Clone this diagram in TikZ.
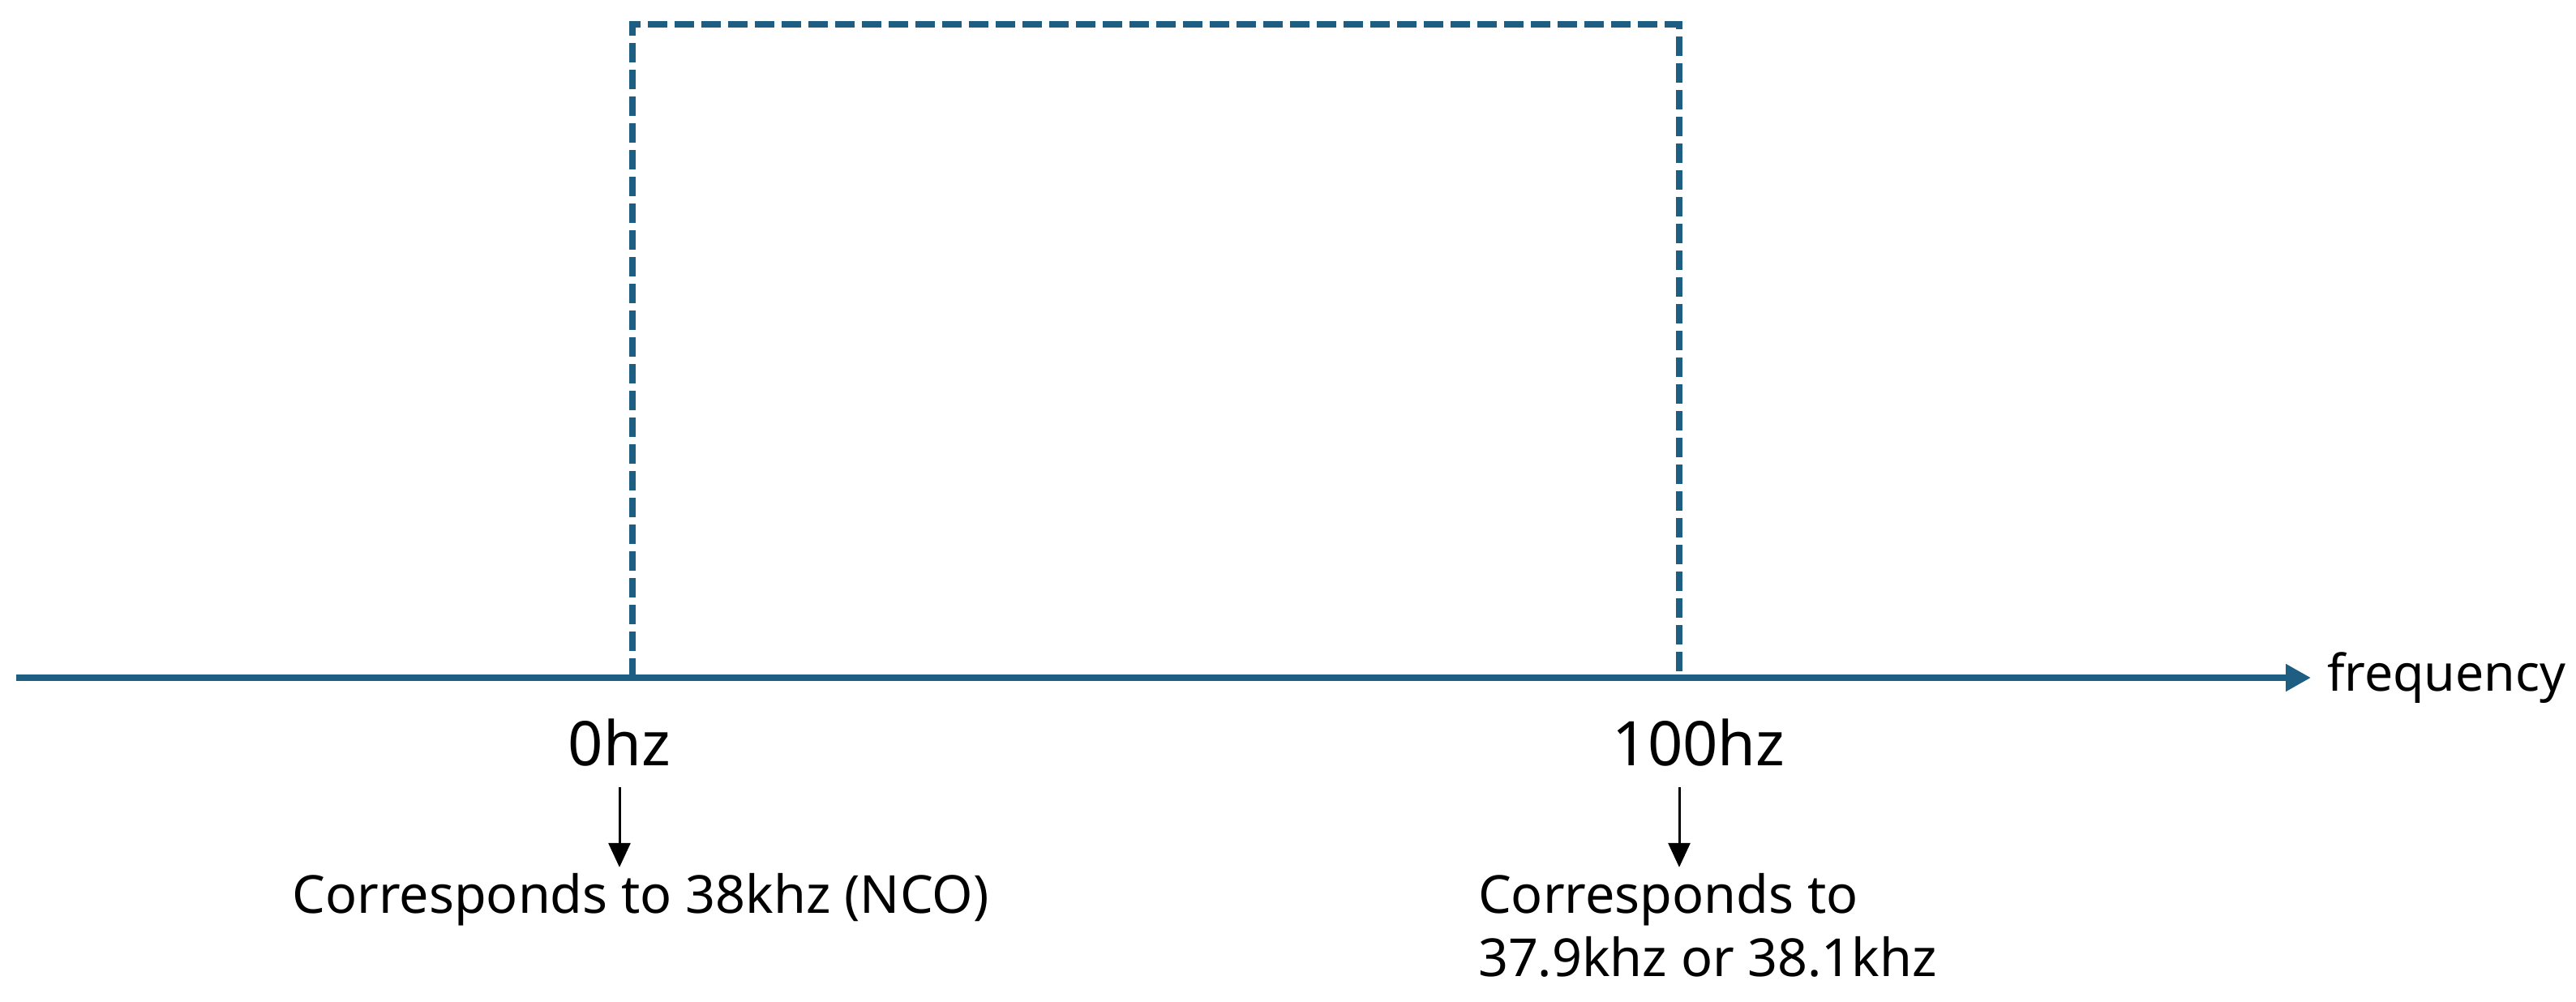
\documentclass[tikz,border=0pt]{standalone}
\usepackage{fontspec}
\setmainfont{Noto Sans}
\usetikzlibrary{positioning,arrows.meta}
\definecolor{axisblue}{RGB}{29,94,130}

\begin{document}
\begin{tikzpicture}
[every node/.style={inner sep=0mm,outer sep=0mm,font=\fontsize{18.4}{22.2}\selectfont},
 tick/.style={font=\fontsize{21.6}{26}\selectfont},
 note/.style={align=left},
 axis/.style={draw=axisblue,line width=0.8mm,-{Triangle[length=3.1mm,width=3.2mm]}},
 band/.style={draw=axisblue,line width=0.8mm,dash pattern=on 2.4mm off 0.9mm},
 ptr/.style={draw=black,line width=0.3mm,-{Triangle[length=3mm,width=2.7mm]}}]
\useasboundingbox (0,0) rectangle (31.77,12.36);
\coordinate (o)  at (0.20,4.00);
\coordinate (e)  at (28.50,4.00);
\coordinate (lb) at (7.80,4.00);
\coordinate (rb) at (20.71,4.00);
\coordinate (lt) at (7.80,12.06);
\coordinate (rt) at (20.71,12.06);
\node       (freq) [right=2mm of e,font=\fontsize{17.8}{21}\selectfont] {frequency};
\node[tick] (f0)   at (7.64,3.20)    {0hz};
\node[tick] (f100) at (20.95,3.20)   {100hz};
\node       (nco)  [anchor=base] at (7.90,1.09) {Corresponds to 38khz (NCO)};
\node[note] (alt)  [anchor=base west] at (18.23,0.31) {Corresponds to\\37.9khz or 38.1khz};
\path[band] (lb) -- (lt) -- (rt) -- (rb);
\path[axis] (o) -- (e);
\path[ptr]  ([yshift=-2.6mm]f0.south) -- ([yshift=0.8mm]f0.south |- nco.north);
\path[ptr]  ([yshift=-2.6mm]rb |- f100.south) -- ([yshift=0.8mm]rb |- nco.north);
\end{tikzpicture}
\end{document}
